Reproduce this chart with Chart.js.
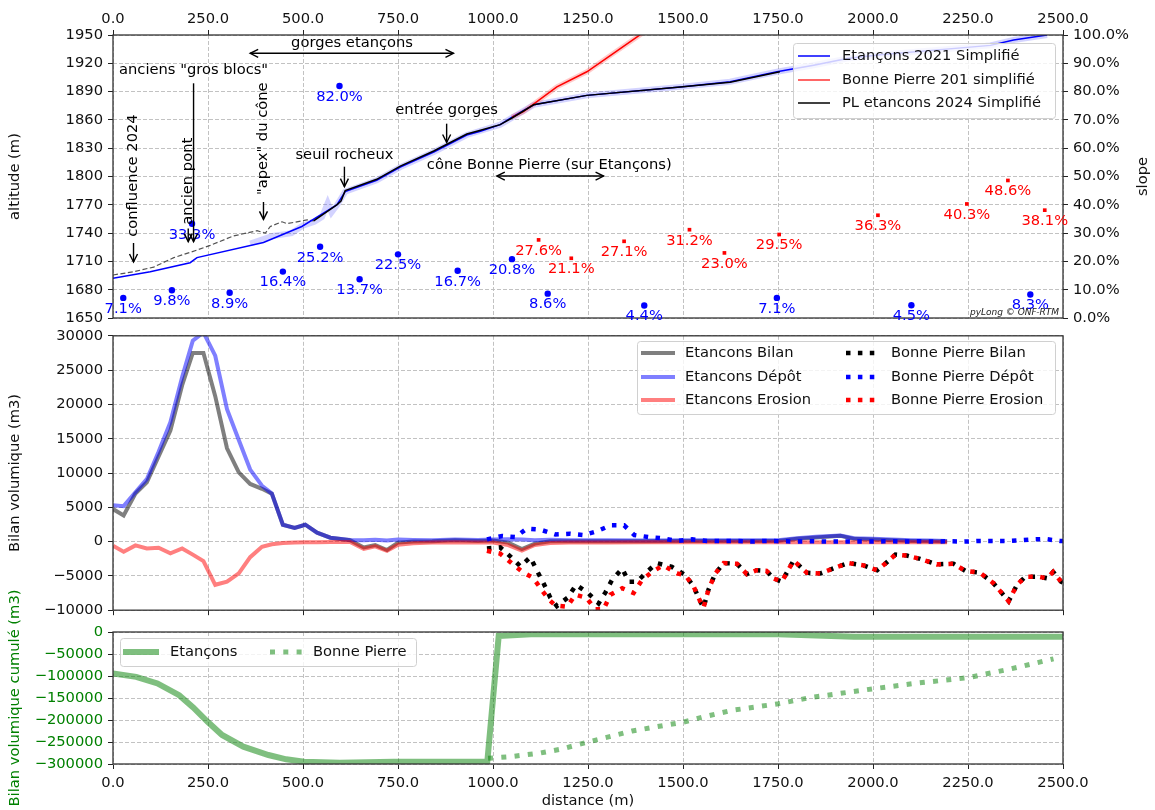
<!DOCTYPE html>
<html>
<head>
<meta charset="utf-8">
<script src="https://cdn.jsdelivr.net/npm/chart.js@4.4.1/dist/chart.umd.min.js"></script>
<style>
  body{margin:0;background:#fff;width:1155px;height:810px;overflow:hidden;position:relative;}
  canvas{position:absolute;left:0;}
</style>
</head>
<body>
<canvas id="cTop" width="1155" height="332" style="top:0px"></canvas>
<canvas id="cMid" width="1155" height="302" style="top:322px"></canvas>
<canvas id="cBot" width="1155" height="250" style="top:560px"></canvas>
<script>
// ---- profil en long (m) ----
const distEt21 = [0,98,203,221,396,497,589,611,694,756,844,931,967,1019,1050,1107,1247,1493,1624,1747,1844,1932,2019,2309,2370,2458];
const altEt21  = [1692,1699,1708.6,1714,1730,1747,1770,1784,1796,1810,1826,1844,1848,1855,1863,1876,1886,1895,1900.5,1911,1918,1925,1929,1939,1944.7,1950];

// profil brut (bande claire)
const distEt21Raw = [361,420,470,500,530,550,565,575,590,611,694,756,844,931,1019,1107,1247,1493,1624,1747,1844,1932,2019,2309,2370,2458];
const altEt21Raw  = [1729,1737,1740,1748,1752,1757,1772,1762,1770,1784,1796,1810,1826,1844,1855,1876,1886,1895,1900.5,1911,1918,1925,1929,1939,1944.7,1950];

const distPL24 = [528,589,600,611,694,756,844,931,967,1019,1050,1107,1247,1493,1624,1755];
const altPL24  = [1753,1770,1774,1785,1797,1811,1827,1845,1849,1855,1862,1876,1886,1895,1900,1911];

const distPL24Aval = [0,54,107,160,221,256,317,379,401,414,445,458,511,528];
const altPL24Aval  = [1695.6,1699,1704,1714,1722,1727,1737,1742.5,1740,1747,1752,1750,1754,1753];

const distBP = [1050,1080,1168,1247,1317,1383,1400];
const altBP  = [1863,1868.7,1895,1911,1930.6,1949,1954];

// pentes (%)
const slopeEtDist = [27,155,307,208,447,545,596,649,750,907,1050,1144,1398,1747,2101,2414];
const slopeEt     = [7.1,9.8,8.9,33.3,16.4,25.2,82.0,13.7,22.5,16.7,20.8,8.6,4.4,7.1,4.5,8.3];
const slopeBPDist = [1120,1206,1345,1517,1609,1753,2013,2247,2355,2452];
const slopeBP     = [27.6,21.1,27.1,31.2,23.0,29.5,36.3,40.3,48.6,38.1];

// annotations
const noteTexts = ['gorges etançons','anciens "gros blocs"','ancien pont','confluence 2024','"apex" du cône','seuil rocheux','entrée gorges','cône Bonne Pierre (sur Etançons)'];
const noteX   = [629,212,198,54,396,609,878,1148];
const noteY   = [1941,1913,1795,1801,1840,1822.8,1870.5,1811.5];
const noteRot = [0,0,1,1,1,0,0,0];
const arrowX1 = [361,212,198,54,396,609,878,1010];
const arrowY1 = [1930.6,1898.8,1745,1729.5,1773,1810.4,1856,1800.5];
const arrowX2 = [896,212,198,54,396,609,878,1291];
const arrowY2 = [1930.6,1731,1731,1709.4,1754.6,1789.2,1836,1800.5];
const arrowBoth = [1,0,0,0,0,0,0,1];

// ---- bilans volumiques (m3) ----
const distVol = [0,28,59,89,120,151,182,210,238,269,300,331,361,392,418,447,478,506,537,572,624,660,690,721,750,790,840,900,960,1000,1040,1076,1110,1150,1200,1300,1400,1500,1600,1700,1750,1800,1850,1914,1950,2000,2050,2100,2150,2195];
const etBilan = [4740,3800,7000,8650,12400,16200,22800,27500,27500,21200,13600,10100,8400,7700,7000,2460,2000,2460,1300,570,200,-850,-500,-1230,-150,0,50,200,100,150,-150,-1100,-300,50,50,50,50,100,100,100,100,400,600,850,400,300,200,100,50,0];
const etDepot = [5300,5170,7200,9100,13100,17400,24000,29300,30500,27100,19300,14800,10500,8150,7000,2460,2000,2460,1300,570,240,200,250,150,300,250,200,300,250,300,350,300,200,250,200,200,150,200,200,200,200,500,700,900,500,400,300,200,150,100];
const etErosion = [-620,-1470,-550,-1000,-900,-1700,-1000,-1900,-2850,-6300,-5850,-4640,-2270,-760,-380,-200,-150,-100,-80,-50,-50,-1050,-700,-1350,-450,-250,-150,-100,-150,-150,-500,-1300,-500,-200,-150,-150,-100,-100,-100,-100,-100,-100,-100,-100,-100,-100,-100,-100,-100,-100];

const distBPBilan = [984,1019,1046,1072,1098,1116,1133,1151,1168,1196,1219,1252,1278,1296,1313,1340,1357,1379,1405,1431,1471,1506,1528,1545,1554,1567,1585,1607,1642,1668,1694,1720,1738,1760,1791,1826,1861,1901,1936,1975,2011,2032,2059,2089,2124,2168,2212,2243,2282,2317,2357,2379,2401,2436,2458,2474,2495,2510];
const bpBilan = [-1000,-850,-2180,-3600,-2280,-4270,-6070,-8200,-9400,-8200,-6300,-7600,-9000,-7400,-5600,-3940,-5840,-5840,-4410,-3130,-3700,-4880,-6550,-8680,-9640,-7020,-4650,-3130,-3230,-4740,-4170,-4270,-5360,-5840,-2750,-4550,-4650,-3800,-3130,-3470,-4170,-3230,-1900,-2040,-2520,-3320,-3230,-4270,-4550,-6070,-8680,-6310,-5120,-5120,-5360,-4410,-5840,-6300];
const distBPDepot = [984,1024,1059,1089,1124,1164,1202,1238,1274,1310,1345,1372,1409,1447,1484,1524,1563,1600,1640,1680,1720,1760,1800,1840,1880,1920,1960,2000,2040,2080,2120,2160,2200,2240,2280,2320,2360,2412,2452,2492,2510];
const bpDepot = [330,810,650,1900,1750,1040,1140,950,1520,2370,2370,950,660,470,100,330,100,100,100,0,100,50,0,50,0,0,0,0,50,0,50,0,50,0,100,100,100,290,380,100,100];
const distBPErosion = [984,1019,1050,1076,1106,1129,1147,1164,1195,1217,1246,1269,1291,1309,1340,1370,1392,1419,1448,1484,1506,1528,1545,1554,1567,1585,1607,1642,1668,1694,1720,1738,1760,1791,1826,1861,1901,1936,1975,2011,2032,2059,2089,2124,2168,2212,2243,2282,2317,2357,2379,2401,2436,2458,2474,2495,2510];
const bpErosion = [-1330,-1760,-3180,-4360,-5310,-7120,-8440,-9300,-9490,-7740,-8200,-9870,-9870,-7740,-6800,-7500,-5600,-4400,-3470,-4650,-4880,-6550,-8680,-9640,-7020,-4650,-3130,-3230,-4740,-4170,-4270,-5360,-5840,-2750,-4550,-4650,-3800,-3130,-3470,-4170,-3230,-1900,-2040,-2520,-3320,-3230,-4270,-4550,-6070,-8680,-6310,-5120,-5120,-5360,-4410,-5840,-6300];

// ---- bilans cumulés (m3) ----
const distCumEt = [0,61,117,174,211,249,287,343,409,456,503,597,738,985,1015,1100,1300,1500,1750,1850,1950,2100,2500];
const cumEt     = [-94500,-102000,-117000,-143600,-171500,-204000,-234000,-260700,-279600,-289400,-294700,-297000,-294700,-294700,-9000,-5000,-5000,-5000,-5000,-8000,-11000,-11000,-11000];
const distCumBP = [987,1050,1125,1180,1250,1366,1500,1554,1629,1751,1836,2001,2117,2249,2362,2475];
const cumBP     = [-287000,-283000,-275000,-266000,-250000,-225000,-205000,-193000,-178000,-163000,-149000,-129000,-116000,-104000,-84000,-61000];

const FS = 14.7;
Chart.defaults.font.family = '"DejaVu Sans", sans-serif';
Chart.defaults.font.size = FS;
Chart.defaults.color = '#111';
Chart.defaults.animation = false;

const FONT = FS + 'px "DejaVu Sans"';

function xy(xs, ys){ return xs.map((x,i)=>({x:x, y:ys[i]})); }
function minus(v){ return v<0 ? '\u2212'+Math.abs(v) : String(v); }

function lineDs(label, xs, ys, color, width, extra){
  return Object.assign({
    label, data: xy(xs, ys), borderColor: color, backgroundColor: color,
    borderWidth: width, pointRadius: 0, tension: 0, fill: false, clip: 0
  }, extra || {});
}

function xScale(position, showLabels, height, pad){
  return {
    type:'linear', position, min:0, max:2500,
    grid:{color:'#c2c2c2', tickColor:'#222', tickLength:5},
    border:{display:false, dash:[4,2]},
    ticks:{display:showLabels, stepSize:250, padding:pad, maxRotation:0, autoSkip:false,
           callback:v=>v.toFixed(1), color:'#111'},
    afterFit:s=>{ s.height = height; }
  };
}
function yScale(min, max, step, title, color, cb){
  return {
    type:'linear', position:'left', min, max,
    grid:{color:'#c2c2c2', tickColor:'#222', tickLength:5},
    border:{display:false, dash:[4,2]},
    ticks:{stepSize:step, padding:5, color, callback:cb},
    title:{display:true, text:title, color, font:{size:FS}, padding:{top:6,bottom:0}},
    afterFit:s=>{ s.width = 113; }
  };
}

// cadre noir autour de la zone de tracé
const framePlugin = {
  id:'frame',
  afterDatasetsDraw(chart){
    const {ctx, chartArea:a} = chart;
    ctx.save();
    ctx.strokeStyle = '#333'; ctx.lineWidth = 1.3;
    ctx.strokeRect(a.left, a.top, a.right-a.left, a.bottom-a.top);
    ctx.restore();
  }
};

// légende façon matplotlib (coordonnées page)
const boxLegendPlugin = {
  id:'boxLegend',
  afterDraw(chart, args, opts){
    if (!opts || !opts.box) return;
    const ctx = chart.ctx, dy = chart.canvas.offsetTop;
    const [bx, by, bw, bh] = opts.box;
    ctx.save();
    ctx.beginPath();
    ctx.roundRect(bx+0.5, by-dy+0.5, bw, bh, 3);
    ctx.fillStyle = 'rgba(255,255,255,0.8)'; ctx.fill();
    ctx.strokeStyle = '#d0d0d0'; ctx.lineWidth = 1; ctx.stroke();
    ctx.font = FONT; ctx.textBaseline = 'middle'; ctx.textAlign = 'left';
    opts.items.forEach(it=>{
      const y = it.y - dy;
      ctx.beginPath();
      ctx.setLineDash(it.dash || []);
      ctx.lineCap = 'butt';
      ctx.strokeStyle = it.color; ctx.lineWidth = it.width;
      ctx.moveTo(it.sx, y); ctx.lineTo(it.sx + it.sw, y); ctx.stroke();
      ctx.setLineDash([]);
      ctx.fillStyle = '#111';
      ctx.fillText(it.label, it.tx, y);
    });
    ctx.restore();
  }
};

function drawArrow(ctx, x1, y1, x2, y2, both){
  const head = (xa, ya, xb, yb)=>{
    const ang = Math.atan2(yb-ya, xb-xa), L = 8, W = 4;
    ctx.beginPath();
    ctx.moveTo(xb - L*Math.cos(ang) + W*Math.sin(ang), yb - L*Math.sin(ang) - W*Math.cos(ang));
    ctx.lineTo(xb, yb);
    ctx.lineTo(xb - L*Math.cos(ang) - W*Math.sin(ang), yb - L*Math.sin(ang) + W*Math.cos(ang));
    ctx.stroke();
  };
  ctx.beginPath(); ctx.moveTo(x1, y1); ctx.lineTo(x2, y2); ctx.stroke();
  head(x1, y1, x2, y2);
  if (both) head(x2, y2, x1, y1);
}

// annotations, étiquettes de pente, titre "slope", signature
const topExtrasPlugin = {
  id:'topExtras',
  afterDraw(chart){
    const {ctx, chartArea:a} = chart;
    const sx = chart.scales.x, sy = chart.scales.y;
    ctx.save();
    // étiquettes de pente
    ctx.font = FONT; ctx.textAlign = 'center'; ctx.textBaseline = 'middle';
    chart.data.datasets.forEach((ds,i)=>{
      if (!ds.slopeLabels) return;
      ctx.fillStyle = ds.borderColor;
      chart.getDatasetMeta(i).data.forEach((pt,j)=>{
        ctx.fillText(ds.data[j].y.toFixed(1)+'%', pt.x, pt.y+11);
      });
    });
    // annotations
    ctx.fillStyle = '#000'; ctx.strokeStyle = '#000'; ctx.lineWidth = 1.4; ctx.lineJoin = 'miter';
    noteTexts.forEach((t,i)=>{
      const px = sx.getPixelForValue(noteX[i]), py = sy.getPixelForValue(noteY[i]);
      ctx.save(); ctx.translate(px, py);
      if (noteRot[i]) ctx.rotate(-Math.PI/2);
      ctx.fillText(t, 0, 0);
      ctx.restore();
    });
    arrowX1.forEach((_,i)=>{
      drawArrow(ctx, sx.getPixelForValue(arrowX1[i]), sy.getPixelForValue(arrowY1[i]),
                     sx.getPixelForValue(arrowX2[i]), sy.getPixelForValue(arrowY2[i]), arrowBoth[i]);
    });
    // titre axe droit
    ctx.save();
    ctx.translate(1143, (a.top+a.bottom)/2); ctx.rotate(-Math.PI/2);
    ctx.fillStyle = '#111'; ctx.fillText('slope', 0, 0);
    ctx.restore();
    // signature
    ctx.font = 'italic 9px "DejaVu Sans"'; ctx.textAlign = 'right'; ctx.textBaseline = 'alphabetic';
    ctx.fillStyle = '#222';
    ctx.fillText('pyLong \u00a9 ONF-RTM', a.right-4, a.bottom-3);
    ctx.restore();
  }
};

// ================= panneau 1 : profil =================
new Chart(document.getElementById('cTop'), {
  type:'line',
  data:{ datasets:[
    lineDs('brut 2021', distEt21Raw, altEt21Raw, 'rgba(80,80,255,0.25)', 6, {order:12}),
    lineDs('brut BP', distBP, altBP, 'rgba(255,80,80,0.3)', 5, {order:11}),
    lineDs('PL 2024 aval', distPL24Aval, altPL24Aval, 'rgba(40,40,40,0.8)', 1.2, {order:10, borderDash:[5,2.5]}),
    lineDs('Etançons 2021 Simplifié', distEt21, altEt21, '#0000ff', 1.5, {order:9}),
    lineDs('Bonne Pierre 201 simplifié', distBP, altBP, '#ff0000', 1.5, {order:8}),
    lineDs('PL etancons 2024 Simplifié', distPL24, altPL24, '#000000', 1.5, {order:7}),
    {label:'pente Etançons', data:xy(slopeEtDist, slopeEt), yAxisID:'y2', showLine:false,
     pointRadius:3.2, pointStyle:'circle', borderColor:'#0000ff', backgroundColor:'#0000ff',
     pointBorderWidth:0, slopeLabels:true, order:2},
    {label:'pente Bonne Pierre', data:xy(slopeBPDist, slopeBP), yAxisID:'y2', showLine:false,
     pointRadius:2.6, pointStyle:'rect', borderColor:'#ff0000', backgroundColor:'#ff0000',
     pointBorderWidth:0, slopeLabels:true, order:1}
  ]},
  options:{
    responsive:false, devicePixelRatio:1, events:[],
    layout:{padding:{top:0,bottom:14,left:0,right:0}, autoPadding:false},
    plugins:{
      legend:{display:false}, tooltip:{enabled:false},
      boxLegend:{
        box:[793,43,262,75],
        items:[
          {label:'Etançons 2021 Simplifié', color:'#0000ff', width:1.5, sx:798, sw:32, tx:842, y:56},
          {label:'Bonne Pierre 201 simplifié', color:'rgba(255,0,0,0.8)', width:1.5, sx:798, sw:32, tx:842, y:80},
          {label:'PL etancons 2024 Simplifié', color:'#000000', width:1.5, sx:798, sw:32, tx:842, y:103}
        ]
      }
    },
    scales:{
      x: xScale('top', true, 35, 2),
      y: yScale(1650, 1950, 30, 'altitude (m)', '#111', v=>String(v)),
      y2:{
        type:'linear', position:'right', min:0, max:100,
        grid:{drawOnChartArea:false, tickColor:'#222', tickLength:5},
        border:{display:false},
        ticks:{stepSize:10, padding:5, color:'#111', callback:v=>v.toFixed(1)+'%'},
        afterFit:s=>{ s.width = 92; }
      }
    }
  },
  plugins:[framePlugin, topExtrasPlugin, boxLegendPlugin]
});

// ================= panneau 2 : bilans =================
const DOT = [4.5, 7.4];
new Chart(document.getElementById('cMid'), {
  type:'line',
  data:{ datasets:[
    lineDs('Etancons Bilan', distVol, etBilan, 'rgba(0,0,0,0.5)', 4, {order:6}),
    lineDs('Etancons Dépôt', distVol, etDepot, 'rgba(0,0,255,0.5)', 4, {order:5}),
    lineDs('Etancons Erosion', distVol, etErosion, 'rgba(255,0,0,0.5)', 4, {order:4}),
    lineDs('Bonne Pierre Bilan', distBPBilan, bpBilan, '#000000', 4.5, {order:3, borderDash:DOT}),
    lineDs('Bonne Pierre Dépôt', distBPDepot, bpDepot, '#0000ff', 4.5, {order:2, borderDash:DOT}),
    lineDs('Bonne Pierre Erosion', distBPErosion, bpErosion, '#ff0000', 4.5, {order:1, borderDash:DOT})
  ]},
  options:{
    responsive:false, devicePixelRatio:1, events:[],
    layout:{padding:{top:11,bottom:0,left:0,right:92}, autoPadding:false},
    plugins:{
      legend:{display:false}, tooltip:{enabled:false},
      boxLegend:{
        box:[637,341,418,73],
        items:[
          {label:'Etancons Bilan', color:'rgba(0,0,0,0.5)', width:4, sx:641, sw:34, tx:685, y:353},
          {label:'Etancons Dépôt', color:'rgba(0,0,255,0.5)', width:4, sx:641, sw:34, tx:685, y:377},
          {label:'Etancons Erosion', color:'rgba(255,0,0,0.5)', width:4, sx:641, sw:34, tx:685, y:400},
          {label:'Bonne Pierre Bilan', color:'#000', width:4.5, dash:DOT, sx:846, sw:33, tx:891, y:353},
          {label:'Bonne Pierre Dépôt', color:'#0000ff', width:4.5, dash:DOT, sx:846, sw:33, tx:891, y:377},
          {label:'Bonne Pierre Erosion', color:'#ff0000', width:4.5, dash:DOT, sx:846, sw:33, tx:891, y:400}
        ]
      }
    },
    scales:{
      x: xScale('bottom', false, 10, 5),
      y: yScale(-10000, 30000, 5000, 'Bilan volumique (m3)', '#111', v=>minus(v))
    }
  },
  plugins:[framePlugin, boxLegendPlugin]
});

// ================= panneau 3 : cumulés =================
const GREEN = 'rgba(0,128,0,0.5)';
new Chart(document.getElementById('cBot'), {
  type:'line',
  data:{ datasets:[
    lineDs('Etançons', distCumEt, cumEt, GREEN, 6, {order:2}),
    lineDs('Bonne Pierre', distCumBP, cumBP, GREEN, 5, {order:1, borderDash:[5,8.3]})
  ]},
  options:{
    responsive:false, devicePixelRatio:1, events:[],
    layout:{padding:{top:72,bottom:0,left:0,right:92}, autoPadding:false},
    plugins:{
      legend:{display:false}, tooltip:{enabled:false},
      boxLegend:{
        box:[120,638,296,28],
        items:[
          {label:'Etançons', color:GREEN, width:6, sx:123, sw:36, tx:170, y:652},
          {label:'Bonne Pierre', color:GREEN, width:5, dash:[5,8.3], sx:270, sw:37, tx:313, y:652}
        ]
      }
    },
    scales:{
      x: Object.assign(xScale('bottom', true, 46, 5), {
        title:{display:true, text:'distance (m)', color:'#111', font:{size:FS}, padding:{top:0,bottom:0}}
      }),
      y: yScale(-300000, 0, 50000, 'Bilan volumique cumulé (m3)', '#008000', v=>minus(v))
    }
  },
  plugins:[framePlugin, boxLegendPlugin]
});
</script>
</body>
</html>
